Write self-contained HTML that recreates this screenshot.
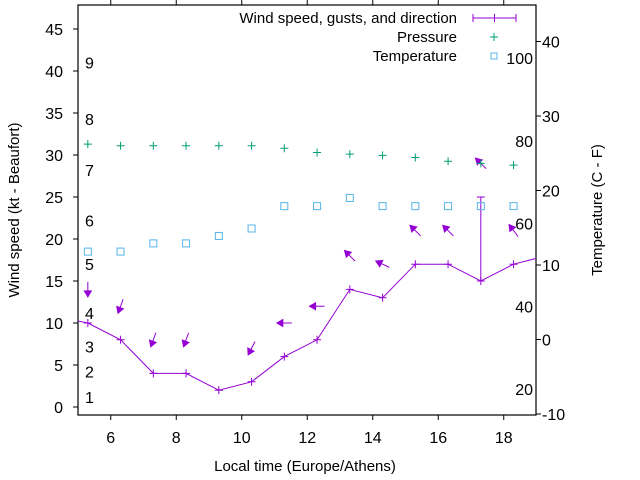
<!DOCTYPE html>
<html><head><meta charset="utf-8"><style>
html,body{margin:0;padding:0;background:#fff;}
svg{display:block;font-family:"Liberation Sans",sans-serif;}
</style></head><body>
<svg id="chart" width="640" height="480" xmlns="http://www.w3.org/2000/svg">
<defs><clipPath id="clip"><rect x="78" y="5" width="458" height="410"/></clipPath></defs>
<g id="grid"></g>
<rect x="78" y="5" width="458" height="410" fill="none" stroke="#000" stroke-width="1.2"/>
<g id="marks" clip-path="url(#clip)"></g>
<g id="labels"></g>
<text transform="translate(19,210) rotate(-90)" text-anchor="middle" font-size="15">Wind speed (kt - Beaufort)</text>
<text transform="translate(602,210) rotate(-90)" text-anchor="middle" font-size="15">Temperature (C - F)</text>
<text x="305" y="471" text-anchor="middle" font-size="15">Local time (Europe/Athens)</text>
<g>
<text x="457" y="23" text-anchor="end" font-size="15">Wind speed, gusts, and direction</text>
<g stroke="#9400d3" stroke-width="1"><line x1="473" y1="18" x2="516" y2="18"/><line x1="473" y1="14" x2="473" y2="22"/><line x1="516" y1="14" x2="516" y2="22"/><line x1="494.5" y1="14" x2="494.5" y2="22"/></g>
<text x="457" y="42" text-anchor="end" font-size="15">Pressure</text>
<g stroke="#009e73"><line x1="490" y1="37" x2="498" y2="37"/><line x1="494" y1="33" x2="494" y2="41"/></g>
<text x="457" y="61" text-anchor="end" font-size="15">Temperature</text>
<rect x="491" y="53" width="6" height="6" fill="none" stroke="#56b4e9"/>
</g>
</svg>
<script>
const hours=[4.3,5.3,6.3,7.3,8.3,9.3,10.3,11.3,12.3,13.3,14.3,15.3,16.3,17.3,18.3,19.3];
const windSpeed=[10.8,10,8,4,4,2,3,6,8,14,13,17,17,15,17,18];
const gustHours=[17.3];
const gustSpeed=[25];
const dirHours=[5.3,6.3,7.3,8.3,10.3,11.3,12.3,13.3,14.3,15.3,16.3,17.3,18.3];
const dirFrom=[0,20,20,20,27,90,90,135,115,135,135,135,143];
const dirLevel=[14,12,8,8,7,10,12,18,17,21,21,29,21];
const presHours=[5.3,6.3,7.3,8.3,9.3,10.3,11.3,12.3,13.3,14.3,15.3,16.3,17.3,18.3];
const pressure=[31.3,31.1,31.1,31.1,31.1,31.1,30.8,30.3,30.1,29.95,29.7,29.25,29.0,28.8];
const tempC=[11.8,11.8,12.9,12.9,13.9,14.9,17.9,17.9,19,17.9,17.9,17.9,17.9,17.9];
const xTicks=[6,8,10,12,14,16,18];
const yTicks=[0,5,10,15,20,25,30,35,40,45];
const y2Ticks=[-10,0,10,20,30,40];
const fTicks=[20,40,60,80,100];
const beaufortLabels=["1","2","3","4","5","6","7","8","9"];
const beaufortKt=[1.2,4.2,7.2,11.2,17,22.2,28.2,34.3,41];

const X=h=>78+(h-5)*32.75;
const Y=v=>407-v*8.4;
const Y2=c=>339.5-c*7.45;
const NS="http://www.w3.org/2000/svg";
function mk(parent,tag,attrs){const e=document.createElementNS(NS,tag);for(const k in attrs)e.setAttribute(k,attrs[k]);parent.appendChild(e);return e;}
const g=document.getElementById('grid'),m=document.getElementById('marks'),L=document.getElementById('labels');

xTicks.forEach(t=>{
 const a=mk(g,'line',{x1:X(t),x2:X(t),y1:415,y2:420,stroke:'#000'});
 
 
 const b=mk(g,'line',{x1:X(t),x2:X(t),y1:0,y2:5,stroke:'#000'});
 
 
 const tx=mk(L,'text',{x:X(t),y:443,'text-anchor':'middle','font-size':16});
 tx.textContent=t;
 
 
});
yTicks.forEach(t=>{
 const a=mk(g,'line',{x1:73,x2:78,y1:Y(t),y2:Y(t),stroke:'#000'});
 
 
 const tx=mk(L,'text',{x:63,y:Y(t)+6,'text-anchor':'end','font-size':16});
 tx.textContent=t;
 
 
});
y2Ticks.forEach(t=>{
 const a=mk(g,'line',{x1:536,x2:541,y1:Y2(t),y2:Y2(t),stroke:'#000'});
 
 
 const tx=mk(L,'text',{x:542,y:Y2(t)+6,'font-size':16});
 tx.textContent=t;
 
 
});
fTicks.forEach(f=>{
 const tx=mk(L,'text',{x:533,y:Y2((f-32)*5/9)+6,'text-anchor':'end','font-size':16});
 tx.textContent=f;
 
 
});
beaufortLabels.forEach((b,i)=>{
 const tx=mk(L,'text',{x:85,y:Y(beaufortKt[i])+6,'font-size':16});
 tx.textContent=b;
 
 
});

// wind line
const pl=mk(m,'polyline',{points:hours.map((h,i)=>X(h)+','+Y(windSpeed[i])).join(' '),fill:'none',stroke:'#9400d3','stroke-width':1});


hours.forEach((h,i)=>{
 const p=mk(m,'path',{d:`M${X(h)-4},${Y(windSpeed[i])}h8M${X(h)},${Y(windSpeed[i])-4}v8`,stroke:'#9400d3','stroke-width':1});
 
 
});
gustHours.forEach((h,i)=>{
 const idx=hours.indexOf(h);
 const p=mk(m,'path',{d:`M${X(h)},${Y(windSpeed[idx])}V${Y(gustSpeed[i])}M${X(h)-4},${Y(gustSpeed[i])}h8`,stroke:'#9400d3','stroke-width':1});
 
 
});
dirHours.forEach((h,i)=>{
 const b=(dirFrom[i]+180)*Math.PI/180;
 const dx=Math.sin(b),dy=-Math.cos(b);
 const cx=X(h),cy=Y(dirLevel[i]),len=15;
 const tx=cx-dx*len/2,ty=cy-dy*len/2,hx=cx+dx*len/2,hy=cy+dy*len/2;
 const px=-dy,py=dx;
 const bx=hx-dx*6,by=hy-dy*6;
 const grp=mk(m,'g',{});
 
 
 mk(grp,'line',{x1:tx,y1:ty,x2:hx,y2:hy,stroke:'#9400d3','stroke-width':1});
 mk(grp,'polygon',{points:`${hx},${hy} ${bx+px*3.5},${by+py*3.5} ${bx-px*3.5},${by-py*3.5}`,fill:'#9400d3',stroke:'#9400d3'});
});
presHours.forEach((h,i)=>{
 const p=mk(m,'path',{d:`M${X(h)-4},${Y(pressure[i])}h8M${X(h)},${Y(pressure[i])-4}v8`,stroke:'#009e73','stroke-width':1});
 
 
});
presHours.forEach((h,i)=>{
 const r=mk(m,'rect',{x:X(h)-3.5,y:Y2(tempC[i])-3.5,width:7,height:7,fill:'none',stroke:'#56b4e9','stroke-width':1});
 
 
});
</script>
</body></html>
